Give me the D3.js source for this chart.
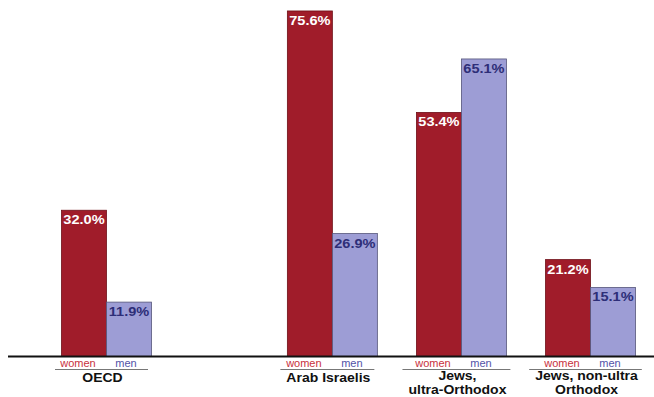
<!DOCTYPE html>
<html>
<head>
<meta charset="utf-8">
<script src="https://cdn.jsdelivr.net/npm/d3@7"></script>
<style>
  html, body { margin: 0; padding: 0; background: #fff; }
  svg { display: block; font-family: "Liberation Sans", Arial, sans-serif; }
</style>
</head>
<body>
<svg id="chart" width="654" height="397"></svg>
<script>
// Share of each group (%), women vs men
const categories = ["OECD", "Arab Israelis", "Jews, ultra-Orthodox", "Jews, non-ultra Orthodox"];
const categoryLines = [["OECD"], ["Arab Israelis"], ["Jews,", "ultra-Orthodox"], ["Jews, non-ultra", "Orthodox"]];
const seriesNames = ["women", "men"];
const women = [32.0, 75.6, 53.4, 21.2];
const men = [11.9, 26.9, 65.1, 15.1];

// Layout: OECD sits apart from the three Israeli groups
const slotOf = [0, 1.75, 2.75, 3.75];

const W = 654, H = 397;
const baseY = 356.5;
const stretch = 1.12; // wide lettering
const svg = d3.select("#chart");

const y = d3.scaleLinear().domain([0, 78]).range([baseY, 0]);
const slot = d3.scaleLinear().domain([0, 3.75]).range([106.5, 590.5]);
const inner = d3.scaleBand().domain(seriesNames).range([-45, 45]).padding(0);

const fills = { women: "#a01c2a", men: "#9d9dd5" };
const strokes = { women: "#6e1018", men: "#55557a" };
const labelFill = { women: "#ffffff", men: "#2e2e78" };
const keyFill = { women: "#c8303c", men: "#5252a8" };

const rows = [];
categories.forEach((c, i) => {
  rows.push({ cat: i, s: "women", v: women[i] });
  rows.push({ cat: i, s: "men", v: men[i] });
});

// Bars
svg.append("g").selectAll("rect").data(rows).join("rect")
  .attr("x", d => slot(slotOf[d.cat]) + inner(d.s))
  .attr("y", d => y(d.v))
  .attr("width", inner.bandwidth())
  .attr("height", d => y(0) - y(d.v))
  .attr("fill", d => fills[d.s])
  .attr("stroke", d => strokes[d.s])
  .attr("stroke-width", 0.8);

// Value labels inside the top of each bar
svg.append("g").selectAll("g").data(rows).join("g")
  .attr("transform", d =>
    `translate(${slot(slotOf[d.cat]) + inner(d.s) + inner.bandwidth() / 2},${y(d.v) + 14}) scale(${stretch},1)`)
  .append("text")
  .attr("text-anchor", "middle")
  .attr("font-size", 13)
  .attr("font-weight", "bold")
  .attr("fill", d => labelFill[d.s])
  .text(d => d.v.toFixed(1) + "%");

// Baseline
svg.append("line")
  .attr("x1", 8).attr("x2", W)
  .attr("y1", baseY).attr("y2", baseY)
  .attr("stroke", "#111").attr("stroke-width", 2.2);

// Category keys and names beneath the baseline
const groups = svg.append("g").selectAll("g").data(categories).join("g")
  .attr("transform", (d, i) => `translate(${slot(slotOf[i])},0)`);

groups.each(function (d, i) {
  const g = d3.select(this);
  seriesNames.forEach(s => {
    g.append("text")
      .attr("x", inner(s) + inner.bandwidth() / 2 + (s === "women" ? -6 : -3))
      .attr("y", 366.5)
      .attr("text-anchor", "middle")
      .attr("font-size", 11)
      .attr("fill", keyFill[s])
      .text(s);
  });
  const lines = categoryLines[i];
  const name = g.append("g")
    .attr("transform", `translate(-4,0) scale(${stretch},1)`)
    .append("text")
    .attr("text-anchor", "middle")
    .attr("font-size", 12.5)
    .attr("font-weight", "bold")
    .attr("fill", "#111");
  lines.forEach((line, k) => {
    const yy = lines.length > 1 ? 380.3 + k * 14 : 382;
    name.append("tspan").attr("x", 0).attr("y", yy).text(line);
  });
  const wText = stretch * d3.max(name.selectAll("tspan").nodes(), n => n.getComputedTextLength());
  const half = Math.max(93, wText + 10) / 2;
  g.append("line")
    .attr("x1", -5 - half).attr("x2", -5 + half)
    .attr("y1", 369.5).attr("y2", 369.5)
    .attr("stroke", "#777").attr("stroke-width", 1);
});
</script>
</body>
</html>
